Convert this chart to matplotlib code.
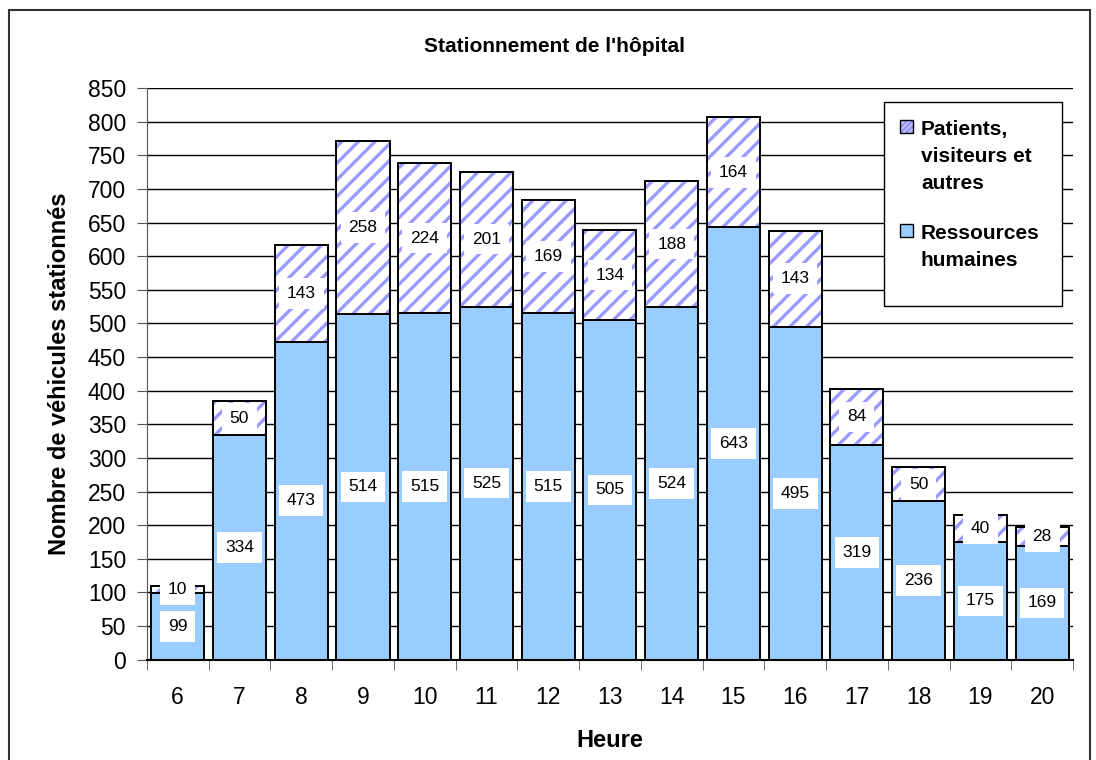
import matplotlib.pyplot as plt
import numpy as np
from matplotlib.patches import Rectangle

plt.rcParams['font.family'] = ['Liberation Sans', 'DejaVu Sans']
plt.rcParams['hatch.linewidth'] = 2.4

heures = ['6', '7', '8', '9', '10', '11', '12', '13', '14', '15', '16', '17', '18', '19', '20']
ressources = [99, 334, 473, 514, 515, 525, 515, 505, 524, 643, 495, 319, 236, 175, 169]
patients = [10, 50, 143, 258, 224, 201, 169, 134, 188, 164, 143, 84, 50, 40, 28]
noms = [['Patients,', 'visiteurs et', 'autres'], ['Ressources', 'humaines']]

W, H = 1096, 760
fig = plt.figure(figsize=(W / 100, H / 100), dpi=100)
ax = fig.add_axes([0.134, 0.132, 0.845, 0.752])


def px(x, y):
    # pixels -> coordonnees figure
    return x / W, 1 - y / H


# cadre exterieur
fig.patches.append(Rectangle((0.0085, -0.02), 0.986, 1.007, transform=fig.transFigure,
                             fill=False, edgecolor='#333333', linewidth=1.5))

x = np.arange(len(heures))
w = 0.86
rh = np.array(ressources)
pt = np.array(patients)

ax.bar(x, rh, w, color='#99CCFF', edgecolor='black', linewidth=1.4, zorder=2)
ax.bar(x, pt, w, bottom=rh, color='white', edgecolor='#9999FF', hatch='//', linewidth=0, zorder=2)
ax.bar(x, pt, w, bottom=rh, fill=False, edgecolor='black', linewidth=1.4, zorder=3)

box = dict(facecolor='white', edgecolor='none', boxstyle='square,pad=0.45')
for i in x:
    ax.text(i, rh[i] / 2, str(rh[i]), ha='center', va='center', fontsize=12.5, bbox=box, zorder=4)
    ax.text(i, rh[i] + pt[i] / 2, str(pt[i]), ha='center', va='center', fontsize=12.5, bbox=box, zorder=4)

ax.set_xlim(-0.5, len(heures) - 0.5)
ax.set_ylim(0, 850)
ax.set_yticks(np.arange(0, 851, 50))
ax.tick_params(axis='y', labelsize=16.5, direction='out', length=7, pad=8, color='#555555')
ax.set_xticks(x)
ax.set_xticklabels(heures, fontsize=16.5)
ax.set_xticks(np.arange(-0.5, len(heures), 1), minor=True)
ax.tick_params(axis='x', which='major', length=0, pad=19)
ax.tick_params(axis='x', which='minor', length=7, direction='out', color='#555555')
ax.grid(axis='y', color='black', linewidth=1, zorder=0)
ax.set_axisbelow(True)
for s in ['top', 'right']:
    ax.spines[s].set_visible(False)
ax.spines['left'].set_color('#555555')
ax.spines['bottom'].set_linewidth(1.5)

ax.set_xlabel('Heure', fontsize=17, fontweight='bold', labelpad=14)
ax.set_ylabel('Nombre de véhicules stationnés', fontsize=17, fontweight='bold', labelpad=12)
fig.text(*px(555, 47), "Stationnement de l'hôpital", ha='center', va='center',
         fontsize=15, fontweight='bold')

# legende dessinee a la main (carres alignes sur la premiere ligne)
x0, y0 = px(884, 306)
x1, y1 = px(1062, 102)
fig.patches.append(Rectangle((x0, y0), x1 - x0, y1 - y0, transform=fig.transFigure,
                             facecolor='white', edgecolor='black', linewidth=1, zorder=5))
styles = [dict(facecolor='white', edgecolor='#9999FF', hatch='//////', linewidth=0),
          dict(facecolor='#99CCFF', edgecolor='none')]
tops = [120, 224]
for nom, st, top in zip(noms, styles, tops):
    sx, sy = px(900, top + 13)
    fig.patches.append(Rectangle((sx, sy), 13 / W, 13 / H, transform=fig.transFigure, zorder=6, **st))
    fig.patches.append(Rectangle((sx, sy), 13 / W, 13 / H, transform=fig.transFigure, zorder=7,
                                 fill=False, edgecolor='black', linewidth=1))
    for k, ligne in enumerate(nom):
        fig.text(*px(921, top + 15 + 27 * k), ligne, ha='left', va='baseline',
                 fontsize=15, fontweight='bold', zorder=8)

fig.savefig('out.png', dpi=100)
